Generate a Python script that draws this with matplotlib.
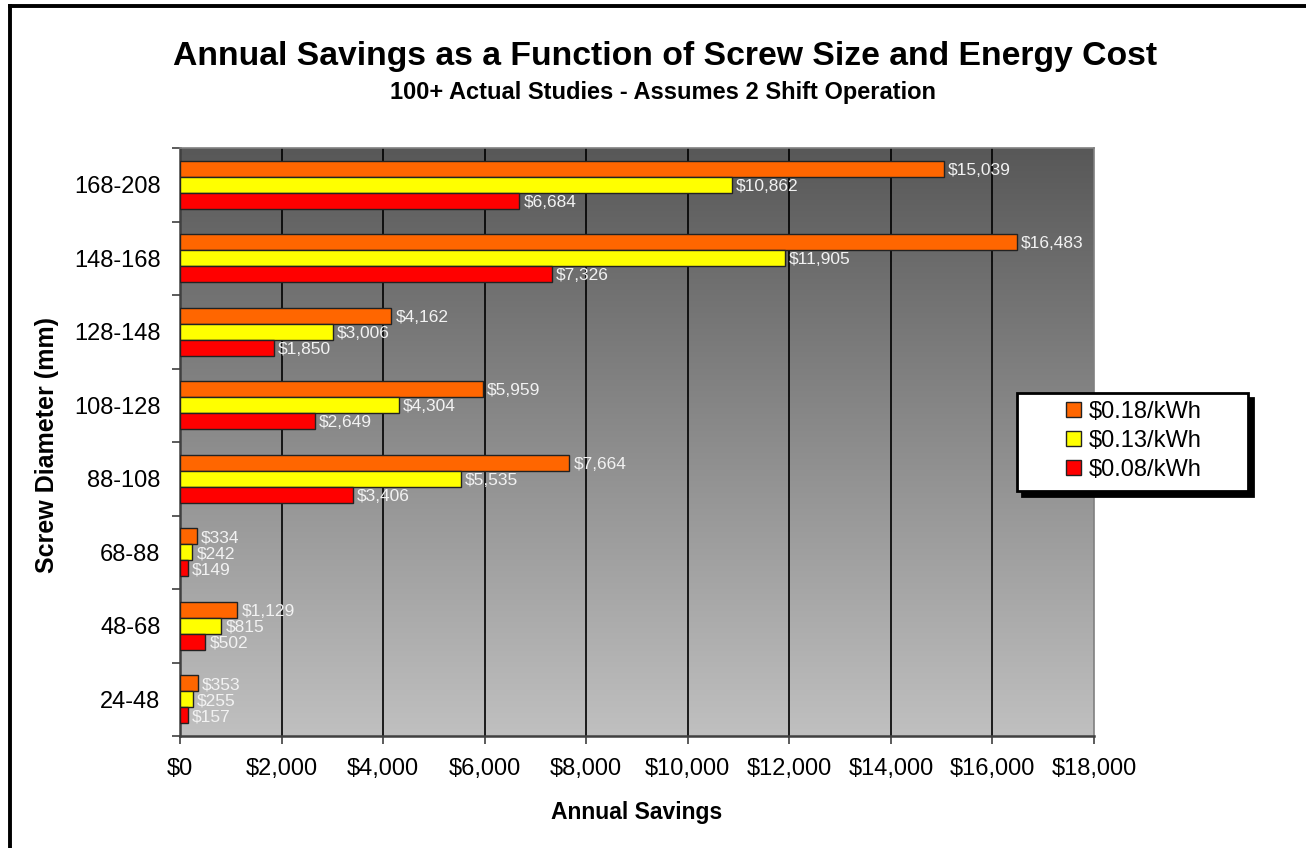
import matplotlib
matplotlib.use("Agg")
import matplotlib.pyplot as plt
import numpy as np
from matplotlib.patches import Rectangle
from matplotlib.lines import Line2D
from matplotlib.colors import LinearSegmentedColormap

plt.rcParams['font.family'] = ['Liberation Sans', 'DejaVu Sans']

categories = ["24-48", "48-68", "68-88", "88-108", "108-128", "128-148", "148-168", "168-208"]
cost_018 = [353, 1129, 334, 7664, 5959, 4162, 16483, 15039]
cost_013 = [255, 815, 242, 5535, 4304, 3006, 11905, 10862]
cost_008 = [157, 502, 149, 3406, 2649, 1850, 7326, 6684]
series_labels = ["$0.18/kWh", "$0.13/kWh", "$0.08/kWh"]
series_colors = ["#FF6600", "#FFFF00", "#FF0000"]
x_ticks = [0, 2000, 4000, 6000, 8000, 10000, 12000, 14000, 16000, 18000]

W, H = 1306, 848
fig = plt.figure(figsize=(W / 100, H / 100), dpi=100)
ax = fig.add_axes([180 / W, 1 - 736 / H, (1094 - 180) / W, (736 - 148) / H])

# gradient background
grad = np.linspace(0, 1, 256).reshape(-1, 1)
cmap = LinearSegmentedColormap.from_list("g", ["#c0c0c0", "#585858"])
ax.imshow(grad, aspect='auto', cmap=cmap, origin='lower',
          extent=[0, 18000, -0.5, len(categories) - 0.5], zorder=0)

y = np.arange(len(categories))
bh = 0.218
series = [cost_018, cost_013, cost_008]
offsets = [bh, 0, -bh]
handles = []
for vals, col, off, lab in zip(series, series_colors, offsets, series_labels):
    bars = ax.barh(y + off, vals, height=bh, color=col, edgecolor="#222222",
                   linewidth=1, zorder=3, label=lab)
    handles.append(bars)
    for yy, v in zip(y + off, vals):
        ax.annotate(f"${v:,}", xy=(v, yy), xytext=(3, -1), textcoords="offset points",
                    ha="left", va="center", fontsize=12.5, color="#f2f2f2", zorder=4)

ax.set_xlim(0, 18000)
ax.set_ylim(-0.5, len(categories) - 0.5)
for xv in x_ticks[1:-1]:
    ax.axvline(xv, color="black", linewidth=1.2, zorder=1)

ax.set_xticks(x_ticks)
ax.set_xticklabels([f"${v:,}" for v in x_ticks], fontsize=17)
ax.set_yticks(y)
ax.set_yticklabels(categories, fontsize=17)
ax.set_yticks(np.arange(-0.5, len(categories), 1), minor=True)
ax.tick_params(axis='y', which='major', length=0, pad=14)
ax.tick_params(axis='y', which='minor', length=6, width=1.2, color="#404040", direction='out')
ax.tick_params(axis='x', which='major', length=6, width=1.2, color="#404040", direction='out', pad=10)

for s in ['top', 'right']:
    ax.spines[s].set_color("#808080")
    ax.spines[s].set_linewidth(1.2)
for s in ['left', 'bottom']:
    ax.spines[s].set_color("#404040")
    ax.spines[s].set_linewidth(1.8)

fig.text(665 / W, 1 - 57 / H, "Annual Savings as a Function of Screw Size and Energy Cost",
         ha="center", va="center", fontsize=24.3, fontweight="bold")
fig.text(663 / W, 1 - 93 / H, "100+ Actual Studies - Assumes 2 Shift Operation",
         ha="center", va="center", fontsize=17, fontweight="bold")
fig.text(637 / W, 1 - 812 / H, "Annual Savings", ha="center", va="center",
         fontsize=16.5, fontweight="bold")
fig.text(47 / W, 1 - 445 / H, "Screw Diameter (mm)", ha="center", va="center",
         rotation=90, fontsize=18, fontweight="bold")

# legend box with shadow
lx0, ly0, lx1, ly1 = 1017, 393, 1248, 491
fig.add_artist(Rectangle(((lx0 + 5) / W, 1 - (ly1 + 5) / H), (lx1 - lx0) / W, (ly1 - ly0) / H,
                         transform=fig.transFigure, facecolor="black", edgecolor="black",
                         linewidth=2, zorder=4))
fig.add_artist(Rectangle((lx0 / W, 1 - ly1 / H), (lx1 - lx0) / W, (ly1 - ly0) / H,
                         transform=fig.transFigure, facecolor="white", edgecolor="black",
                         linewidth=2, zorder=4.5))
leg = fig.legend(handles=handles, labels=series_labels, loc="center left",
                 bbox_to_anchor=(1066 / W, 1 - 441 / H), frameon=False, fontsize=17,
                 handlelength=0.62, handleheight=0.62, handletextpad=0.35,
                 labelspacing=0.3, borderpad=0, borderaxespad=0)
leg.set_zorder(5)

# outer frame (cut at right and bottom)
fig.add_artist(Line2D([10 / W, 10 / W], [0, 1 - 6 / H], transform=fig.transFigure,
                      color="black", linewidth=2.8, solid_capstyle="projecting"))
fig.add_artist(Line2D([10 / W, 1], [1 - 6 / H, 1 - 6 / H], transform=fig.transFigure,
                      color="black", linewidth=2.8, solid_capstyle="projecting"))

fig.savefig("out.png", dpi=100)
